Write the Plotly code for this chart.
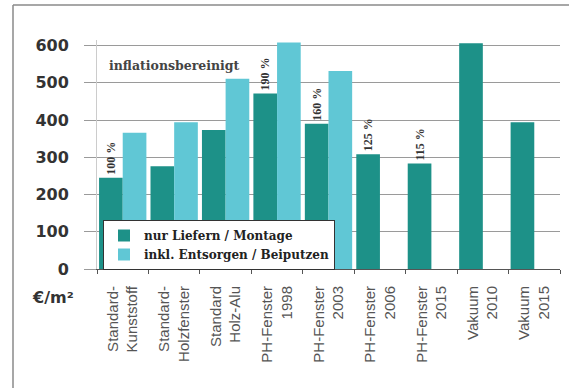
import plotly.graph_objects as go

categories = ["Standard-<br>Kunststoff", "Standard-<br>Holzfenster", "Standard<br>Holz-Alu",
              "PH-Fenster<br>1998", "PH-Fenster<br>2003", "PH-Fenster<br>2006",
              "PH-Fenster<br>2015", "Vakuum<br>2010", "Vakuum<br>2015"]
liefern = [245, 276, 373, 471, 390, 308, 283, 606, 394]
entsorgen = [366, 394, 511, 608, 532, None, None, None, None]
percent_labels = ["100 %", "", "", "190 %", "160 %", "125 %", "115 %", "", ""]
y_ticks = [0, 100, 200, 300, 400, 500, 600]

DARK = "#1d9188"
LIGHT = "#60c7d5"

fig = go.Figure()
fig.add_trace(go.Bar(
    x=categories, y=liefern, name="nur Liefern / Montage",
    marker=dict(color=DARK, line=dict(width=0)),
    text=percent_labels, textposition="outside", textangle=-90,
    constraintext="none",
    textfont=dict(family="Liberation Serif", size=12, color="#333333", weight="bold"),
    cliponaxis=False,
))
fig.add_trace(go.Bar(
    x=categories, y=entsorgen, name="inkl. Entsorgen / Beiputzen",
    marker=dict(color=LIGHT, line=dict(width=0)),
))

L, R, T, B = 97, 9, 40, 119
W, H = 569, 388
pw, ph = W - L - R, H - T - B

def px(xpix):
    return (xpix - L) / pw

def py(ypix):
    return (H - B - ypix) / ph

frame_style = dict(color="#8a8a8a", width=1.5)

fig.update_layout(
    width=W, height=H,
    margin=dict(l=L, r=R, t=T, b=B),
    paper_bgcolor="white", plot_bgcolor="white",
    barmode="group", bargap=0.08, bargroupgap=0,
    showlegend=True,
    legend=dict(
        x=px(103), y=py(220), xanchor="left", yanchor="top",
        bgcolor="white", bordercolor="#333333", borderwidth=1,
        font=dict(family="DejaVu Serif", size=12, color="#222222", weight="bold"),
        itemwidth=30, tracegroupgap=0,
    ),
    xaxis=dict(
        type="category",
        tickangle=-90,
        tickfont=dict(family="Liberation Sans", size=15, color="#555555"),
        ticks="outside", ticklen=4, tickcolor="#555555", tickson="boundaries",
        showline=True, linecolor="#555555", linewidth=1,
        showgrid=False, ticklabelstandoff=10,
    ),
    yaxis=dict(
        range=[0, 615],
        tickvals=y_ticks,
        tickfont=dict(family="DejaVu Sans", size=16, color="#333333", weight="bold"),
        showgrid=True, gridcolor="#9a9a9a", gridwidth=1,
        ticks="outside", ticklen=12, tickcolor="#9a9a9a",
        showline=True, linecolor="#cccccc", linewidth=1,
        zeroline=False, ticklabelstandoff=12,
    ),
    annotations=[
        dict(text="inflationsbereinigt", xref="paper", yref="paper",
             x=px(107), y=py(65), xanchor="left", yanchor="middle", showarrow=False,
             font=dict(family="DejaVu Serif", size=12.5, color="#444444", weight="bold")),
        dict(text="€/m²", xref="paper", yref="paper",
             x=px(53), y=py(297), xanchor="center", yanchor="middle", showarrow=False,
             font=dict(family="DejaVu Sans", size=16, color="#333333", weight="bold")),
    ],
    shapes=[
        dict(type="line", xref="paper", yref="paper",
             x0=px(13), x1=px(13), y0=py(400), y1=py(5), line=frame_style, layer="below"),
        dict(type="line", xref="paper", yref="paper",
             x0=px(13), x1=px(580), y0=py(5), y1=py(5), line=frame_style, layer="below"),
    ],
)

fig.write_html("out.html",
               config={"displayModeBar": False},
               post_script="document.body.style.margin='0px';document.body.style.overflow='hidden';")
